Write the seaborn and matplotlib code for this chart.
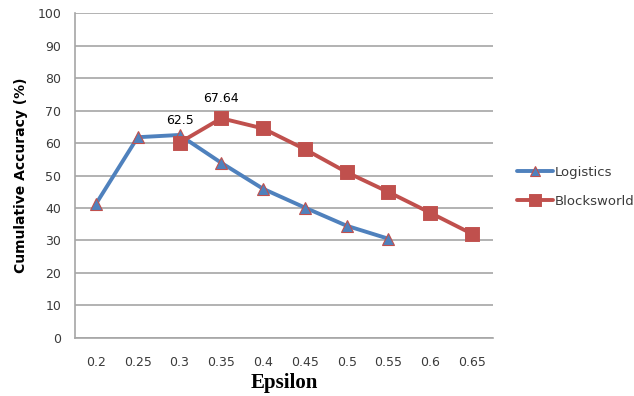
import matplotlib
matplotlib.use("Agg")
import matplotlib.pyplot as plt
import seaborn as sns
import pandas as pd

# Epsilon categories shared by both domains
epsilon = ["0.2", "0.25", "0.3", "0.35", "0.4", "0.45", "0.5", "0.55", "0.6", "0.65"]

logistics_eps = ["0.2", "0.25", "0.3", "0.35", "0.4", "0.45", "0.5", "0.55"]
logistics_acc = [41.2, 61.8, 62.5, 53.9, 45.9, 40.1, 34.5, 30.5]

blocks_eps = ["0.3", "0.35", "0.4", "0.45", "0.5", "0.55", "0.6", "0.65"]
blocks_acc = [60.1, 67.64, 64.5, 58.1, 51.0, 44.9, 38.5, 32.0]

y_ticks = [0, 10, 20, 30, 40, 50, 60, 70, 80, 90, 100]

BLUE = "#4F81BD"
RED = "#C0504D"
GRID = "#A6A6A6"
TXT = "#3a3a3a"

sns.set_theme(style="white")
plt.rcParams["font.family"] = ["DejaVu Sans"]

fig = plt.figure(figsize=(6.34, 3.96), dpi=100)
ax = fig.add_axes([0.1183, 0.1472, 0.6593, 0.8192])

log_df = pd.DataFrame({"Epsilon": logistics_eps, "Accuracy": logistics_acc})
blk_df = pd.DataFrame({"Epsilon": blocks_eps, "Accuracy": blocks_acc})

sns.pointplot(data=log_df, x="Epsilon", y="Accuracy", order=epsilon, ax=ax,
              color=BLUE, markers="^", errorbar=None, label="Logistics",
              linewidth=2.8, markersize=8, markeredgecolor=RED,
              markeredgewidth=0.8, markerfacecolor=BLUE, zorder=3)
sns.pointplot(data=blk_df, x="Epsilon", y="Accuracy", order=epsilon, ax=ax,
              color=RED, markers="s", errorbar=None, label="Blocksworld",
              linewidth=2.8, markersize=8, markeredgecolor=RED,
              markerfacecolor=RED, zorder=4)

# value labels on the two peaks
ax.annotate("62.5", xy=(epsilon.index("0.3"), logistics_acc[2]),
            xytext=(0, 14), textcoords="offset pixels", ha="center", va="center",
            fontsize=9, color="black")
ax.annotate("67.64", xy=(epsilon.index("0.35"), blocks_acc[1]),
            xytext=(0, 19.5), textcoords="offset pixels", ha="center", va="center",
            fontsize=9, color="black")

ax.set_ylim(0, 100)
ax.set_xlim(-0.5, len(epsilon) - 0.5)
ax.set_yticks(y_ticks)
ax.yaxis.grid(True, color=GRID, linewidth=1.2)
ax.xaxis.grid(False)
ax.set_axisbelow(True)

for side in ["top", "right"]:
    ax.spines[side].set_visible(False)
for side in ["left", "bottom"]:
    ax.spines[side].set_color(GRID)
    ax.spines[side].set_linewidth(1.2)

ax.tick_params(axis="both", length=0, labelsize=9, labelcolor=TXT)
ax.tick_params(axis="y", pad=10)
ax.tick_params(axis="x", pad=13)

ax.set_xlabel("Epsilon", fontsize=15, fontweight="bold",
              family="Liberation Serif", color="black", labelpad=3)
ax.set_ylabel("Cumulative Accuracy (%)", fontsize=10, fontweight="bold",
              color="black", labelpad=7)

ax.legend(loc="center left", bbox_to_anchor=(1.0, 0.465), frameon=False,
          fontsize=9.5, handlelength=2.7, handletextpad=0.15, labelspacing=1.25,
          borderaxespad=1.45, labelcolor=TXT, markerscale=0.85)

fig.savefig("out.png", dpi=100)
